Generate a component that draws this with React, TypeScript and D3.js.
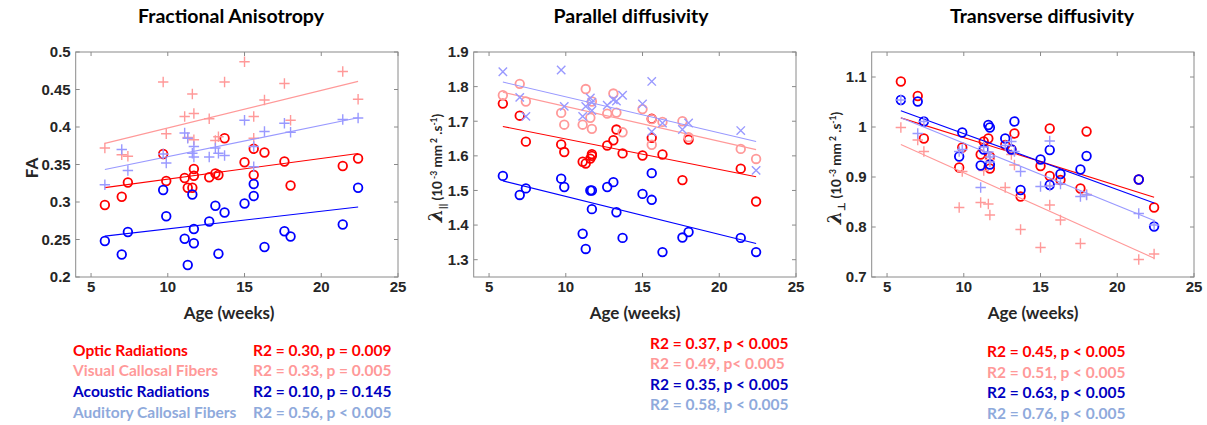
import React from "react";
import * as d3 from "d3";

// ---------- data ----------
const ages = [5.9, 7.0, 7.4, 9.7, 9.9, 11.1, 11.3, 11.6, 11.7, 11.7, 12.7, 13.1, 13.3, 13.7, 15.0, 15.6, 15.6, 16.3, 17.6, 18.0, 21.4, 22.4];

const faOptic = [0.296, 0.307, 0.326, 0.364, 0.328, 0.332, 0.319, 0.319, 0.344, 0.335, 0.333, 0.338, 0.336, 0.385, 0.353, 0.371, 0.336, 0.366, 0.354, 0.322, 0.348, 0.358];
const faVisual = [0.372, 0.363, 0.361, 0.460, 0.391, 0.414, 0.386, 0.444, 0.418, 0.383, 0.411, 0.382, 0.387, 0.460, 0.487, 0.414, 0.385, 0.436, 0.458, 0.409, 0.474, 0.437];
const faAcoustic = [0.248, 0.230, 0.260, 0.316, 0.281, 0.251, 0.216, 0.310, 0.264, 0.245, 0.274, 0.295, 0.231, 0.286, 0.298, 0.324, 0.308, 0.240, 0.261, 0.254, 0.270, 0.319];
const faAuditory = [0.323, 0.370, 0.342, 0.364, 0.352, 0.392, 0.385, 0.365, 0.360, 0.374, 0.360, 0.372, 0.365, 0.362, 0.409, 0.374, 0.347, 0.394, 0.405, 0.393, 0.410, 0.412];

const parOptic = [1.751, 1.716, 1.641, 1.633, 1.611, 1.583, 1.578, 1.592, 1.605, 1.600, 1.630, 1.645, 1.676, 1.607, 1.601, 1.707, 1.652, 1.604, 1.530, 1.647, 1.563, 1.468];
const parVisual = [1.775, 1.808, 1.757, 1.724, 1.690, 1.690, 1.793, 1.710, 1.678, 1.757, 1.722, 1.780, 1.725, 1.668, 1.735, 1.706, 1.632, 1.698, 1.700, 1.654, 1.620, 1.591];
const parAcoustic = [1.542, 1.487, 1.506, 1.534, 1.510, 1.375, 1.331, 1.500, 1.500, 1.446, 1.510, 1.524, 1.437, 1.363, 1.490, 1.550, 1.473, 1.322, 1.364, 1.380, 1.363, 1.322];
const parAuditory = [1.843, 1.769, 1.714, 1.848, 1.743, 1.714, 1.743, 1.767, 1.731, 1.755, 1.746, 1.762, 1.758, 1.775, 1.750, 1.815, 1.670, 1.695, 1.676, 1.695, 1.673, 1.558];

const trOptic = [1.091, 1.062, 0.977, 0.919, 0.959, 0.945, 0.971, 0.977, 0.941, 0.917, 0.964, 0.955, 0.987, 0.861, 0.922, 0.997, 0.902, 0.894, 0.877, 0.991, 0.895, 0.839];
const trVisual = [0.999, 0.974, 0.951, 0.839, 0.911, 0.849, 0.913, 0.846, 0.824, 0.935, 0.879, 0.945, 0.924, 0.795, 0.759, 0.844, 0.883, 0.814, 0.767, 0.865, 0.735, 0.746];
const trAcoustic = [1.054, 1.051, 1.011, 0.941, 0.989, 0.923, 0.955, 1.004, 0.999, 0.925, 0.977, 0.955, 1.011, 0.874, 0.935, 0.954, 0.884, 0.906, 0.915, 0.942, 0.895, 0.801];
const trAuditory = [1.054, 0.987, 1.011, 0.951, 0.955, 0.879, 0.960, 0.950, 0.940, 0.930, 0.963, 0.971, 0.951, 0.911, 0.881, 0.972, 0.882, 0.886, 0.861, 0.864, 0.827, 0.804];

const xTicks = [5, 10, 15, 20, 25];
const faTicks = [0.2, 0.25, 0.3, 0.35, 0.4, 0.45, 0.5];
const parTicks = [1.3, 1.4, 1.5, 1.6, 1.7, 1.8, 1.9];
const trTicks = [0.7, 0.8, 0.9, 1.0, 1.1];

const tractNames = ["Optic Radiations", "Visual Callosal Fibers", "Acoustic Radiations", "Auditory Callosal Fibers"];
const faStats = ["R2 = 0.30, p = 0.009", "R2 = 0.33, p = 0.005", "R2 = 0.10, p = 0.145", "R2 = 0.56, p < 0.005"];
const parStats = ["R2 = 0.37, p < 0.005", "R2 = 0.49, p< 0.005", "R2 = 0.35, p < 0.005", "R2 = 0.58, p < 0.005"];
const trStats = ["R2 = 0.45, p < 0.005", "R2 = 0.51, p < 0.005", "R2 = 0.63, p < 0.005", "R2 = 0.76, p < 0.005"];

// ---------- styles ----------
const RED = "#ff0000";
const PINK = "#ff9999";
const BLUE = "#0000ff";
const LBLUE = "#9999ff";
const textColors = ["#ff0000", "#ff9999", "#0000c0", "#8faadc"];
const AXIS = "#8a8a8a";
const LABEL = "#262626";
const UI = "Lato, 'Open Sans', sans-serif";
const TICKFONT = "'Liberation Sans', Arial, sans-serif";

type Marker = "o" | "+" | "x";
interface Series { values: number[]; color: string; marker: Marker }

const panels = [
  {
    key: "fa", left: 75.7, title: "Fractional Anisotropy", titleX: 231, xLabelX: 229,
    yDomain: [0.2, 0.5], yTicks: faTicks, yLabelX: 31, yLabel: "fa",
    series: [
      { values: faOptic, color: RED, marker: "o" },
      { values: faVisual, color: PINK, marker: "+" },
      { values: faAcoustic, color: BLUE, marker: "o" },
      { values: faAuditory, color: LBLUE, marker: "+" },
    ] as Series[],
  },
  {
    key: "par", left: 473.7, title: "Parallel diffusivity", titleX: 631, xLabelX: 635,
    yDomain: [1.25, 1.9], yTicks: parTicks, yLabelX: 437, yLabel: "par",
    series: [
      { values: parOptic, color: RED, marker: "o" },
      { values: parVisual, color: PINK, marker: "o" },
      { values: parAcoustic, color: BLUE, marker: "o" },
      { values: parAuditory, color: LBLUE, marker: "x" },
    ] as Series[],
  },
  {
    key: "tr", left: 871.7, title: "Transverse diffusivity", titleX: 1042, xLabelX: 1033,
    yDomain: [0.7, 1.15], yTicks: trTicks, yLabelX: 836, yLabel: "tr",
    series: [
      { values: trOptic, color: RED, marker: "o" },
      { values: trVisual, color: PINK, marker: "+" },
      { values: trAcoustic, color: BLUE, marker: "o" },
      { values: trAuditory, color: LBLUE, marker: "+" },
    ] as Series[],
  },
];

const TOP = 52;
const BOTTOM = 277;
const PLOT_W = 322.3;
const TICK = 4;

function fit(xs: number[], ys: number[]) {
  const mx = d3.mean(xs)!;
  const my = d3.mean(ys)!;
  let sxy = 0, sxx = 0;
  xs.forEach((x, i) => { sxy += (x - mx) * (ys[i] - my); sxx += (x - mx) * (x - mx); });
  const b = sxy / sxx;
  return { a: my - b * mx, b };
}

function fmt(v: number) {
  return String(+v.toFixed(2));
}

function MarkerShape({ m, cx, cy, color }: { m: Marker; cx: number; cy: number; color: string }) {
  if (m === "o") return <circle cx={cx} cy={cy} r={4.3} fill="none" stroke={color} strokeWidth={1.8} />;
  if (m === "+") {
    const s = 5.2;
    return <path d={`M${cx - s},${cy}H${cx + s}M${cx},${cy - s}V${cy + s}`} stroke={color} strokeWidth={1.4} fill="none" />;
  }
  const s = 4.2;
  return <path d={`M${cx - s},${cy - s}L${cx + s},${cy + s}M${cx - s},${cy + s}L${cx + s},${cy - s}`} stroke={color} strokeWidth={1.4} fill="none" />;
}

function YLabel({ kind, x }: { kind: string; x: number }) {
  const cy = 168;
  if (kind === "fa") {
    return (
      <text transform={`translate(${x},${cy}) rotate(-90)`} textAnchor="middle" dominantBaseline="central"
        fontFamily={UI} fontWeight="bold" fontSize={17} fill={LABEL}>FA</text>
    );
  }
  const sub = kind === "par" ? "||" : "\u22A5";
  return (
    <text transform={`translate(${x},${cy}) rotate(-90)`} textAnchor="middle" dy={5}
      fontFamily={UI} fontWeight="bold" fontSize={13.5} fill={LABEL}>
      <tspan fontFamily="'DejaVu Serif', serif" fontStyle="italic" fontSize={19}>λ</tspan>
      <tspan dy={4} fontSize={10}>{sub}</tspan>
      <tspan dy={-4}> (10</tspan>
      <tspan dy={-5} fontSize={8.5}> -3</tspan>
      <tspan dy={5}> mm</tspan>
      <tspan dy={-5} fontSize={8.5}> 2</tspan>
      <tspan dy={5}> .s</tspan>
      <tspan dy={-5} fontSize={8.5}>-1</tspan>
      <tspan dy={5}>)</tspan>
    </text>
  );
}

function Panel({ p }: { p: typeof panels[number] }) {
  const x = d3.scaleLinear().domain([4, 25]).range([p.left, p.left + PLOT_W]);
  const y = d3.scaleLinear().domain(p.yDomain).range([BOTTOM, TOP]);
  const x0 = d3.min(ages)!;
  const x1 = d3.max(ages)!;
  return (
    <g>
      <text x={p.titleX} y={23} textAnchor="middle" fontFamily={UI} fontWeight="bold" fontSize={19.5} fill="#000">{p.title}</text>
      <rect x={x.range()[0]} y={TOP} width={PLOT_W} height={BOTTOM - TOP} fill="#fff" stroke={AXIS} strokeWidth={1} />
      {xTicks.map((t) => (
        <g key={"x" + t}>
          <line x1={x(t)} x2={x(t)} y1={BOTTOM} y2={BOTTOM - TICK} stroke={AXIS} />
          <line x1={x(t)} x2={x(t)} y1={TOP} y2={TOP + TICK} stroke={AXIS} />
          <text x={x(t)} y={292} textAnchor="middle" fontFamily={TICKFONT} fontWeight="bold" fontSize={15} fill={LABEL}>{t}</text>
        </g>
      ))}
      {p.yTicks.map((t) => (
        <g key={"y" + t}>
          <line x1={x.range()[0]} x2={x.range()[0] + TICK} y1={y(t)} y2={y(t)} stroke={AXIS} />
          <line x1={x.range()[1]} x2={x.range()[1] - TICK} y1={y(t)} y2={y(t)} stroke={AXIS} />
          <text x={x.range()[0] - 5} y={y(t)} dy={5.3} textAnchor="end" fontFamily={TICKFONT} fontWeight="bold" fontSize={15} fill={LABEL}>{fmt(t)}</text>
        </g>
      ))}
      {p.series.map((s, si) => {
        const f = fit(ages, s.values);
        return (
          <g key={si}>
            {s.values.map((v, i) => (
              <MarkerShape key={i} m={s.marker} cx={x(ages[i])} cy={y(v)} color={s.color} />
            ))}
            <line x1={x(x0)} y1={y(f.a + f.b * x0)} x2={x(x1)} y2={y(f.a + f.b * x1)} stroke={s.color} strokeWidth={1.1} />
          </g>
        );
      })}
      <text x={p.xLabelX} y={319} textAnchor="middle" fontFamily={UI} fontWeight="bold" fontSize={17} fill={LABEL}>Age (weeks)</text>
      <YLabel kind={p.yLabel} x={p.yLabelX} />
    </g>
  );
}

export default function App() {
  const LF = 15.5;
  return (
    <svg width={1207} height={425} style={{ position: "absolute", left: 0, top: 0, background: "#fff" }}>
      <rect width={1207} height={425} fill="#fff" />
      {panels.map((p) => <Panel key={p.key} p={p} />)}
      {tractNames.map((n, i) => (
        <text key={"n" + i} x={73} y={355.5 + i * 20.8} fontFamily={UI} fontWeight="bold" fontSize={LF} fill={textColors[i]}>{n}</text>
      ))}
      {faStats.map((s, i) => (
        <text key={"fs" + i} x={253} y={355.5 + i * 20.8} fontFamily={UI} fontWeight="bold" fontSize={LF} fill={textColors[i]}>{s}</text>
      ))}
      {parStats.map((s, i) => (
        <text key={"ps" + i} x={650} y={348.5 + i * 20.5} fontFamily={UI} fontWeight="bold" fontSize={LF} fill={textColors[i]}>{s}</text>
      ))}
      {trStats.map((s, i) => (
        <text key={"ts" + i} x={987} y={357 + i * 20.5} fontFamily={UI} fontWeight="bold" fontSize={LF} fill={textColors[i]}>{s}</text>
      ))}
    </svg>
  );
}
